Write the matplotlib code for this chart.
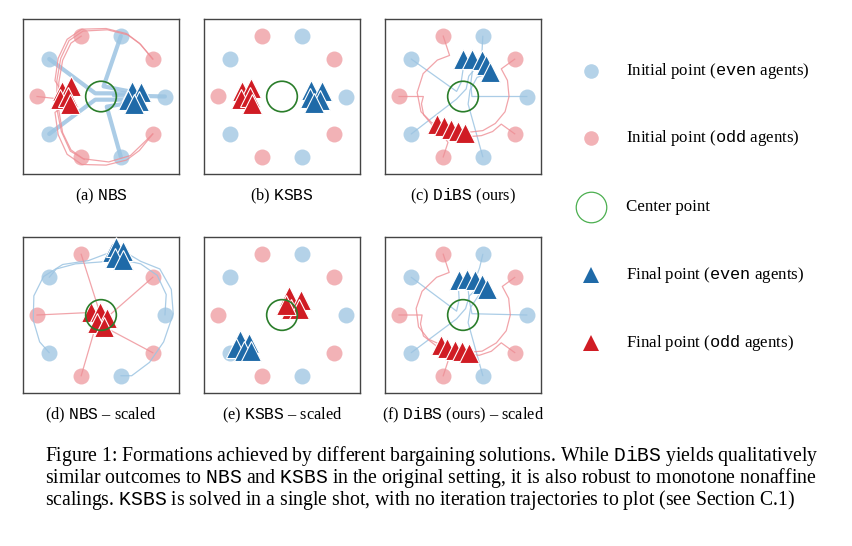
import numpy as np
import matplotlib
matplotlib.use("Agg")
import matplotlib.pyplot as plt
from matplotlib.patches import Circle

plt.rcParams['font.family'] = ['Liberation Serif', 'DejaVu Serif']
plt.rcParams['mathtext.fontset'] = 'custom'
plt.rcParams['mathtext.rm'] = 'Liberation Serif'
plt.rcParams['mathtext.tt'] = 'Liberation Mono'

# ---------------- data ----------------
# initial agent positions (polar): 10 agents on unit circle, even = blue, odd = red
init_angles_deg = [0, 36, 72, 108, 144, 180, 216, 252, 288, 324]
init_radius = 1.0
center_radius = 0.24

panel_labels = [r'(a) $\mathtt{NBS}$', r'(b) $\mathtt{KSBS}$', r'(c) $\mathtt{DiBS}$ (ours)',
                r'(d) $\mathtt{NBS}$ – scaled', r'(e) $\mathtt{KSBS}$ – scaled',
                r'(f) $\mathtt{DiBS}$ (ours) – scaled']

# final points (x, y)
final_even_a = [(0.48, 0.09), (0.62, 0.07), (0.43, -0.05), (0.60, -0.07), (0.51, -0.12)]
final_odd_a = [(-0.61, 0.09), (-0.47, 0.16), (-0.64, -0.04), (-0.51, 0.00), (-0.48, -0.12)]
final_even_b = [(0.46, 0.11), (0.62, 0.08), (0.44, -0.03), (0.60, -0.06), (0.50, -0.10)]
final_odd_b = [(-0.62, 0.08), (-0.48, 0.14), (-0.64, -0.04), (-0.50, 0.00), (-0.47, -0.12)]
final_even_c = [(0.00, 0.59), (0.14, 0.59), (0.29, 0.57), (0.36, 0.49), (0.43, 0.38)]
final_odd_c = [(-0.40, -0.43), (-0.30, -0.47), (-0.19, -0.51), (-0.08, -0.54), (0.03, -0.57)]
final_even_d = [(0.17, 0.99), (0.24, 1.07), (0.35, 1.00), (0.22, 0.89), (0.35, 0.86)]
final_odd_d = [(-0.15, 0.04), (-0.02, 0.04), (0.09, -0.04), (-0.07, -0.13), (0.04, -0.18)]
final_even_e = [(-0.66, -0.39), (-0.51, -0.44), (-0.72, -0.52), (-0.59, -0.57), (-0.48, -0.57)]
final_odd_e = [(0.11, 0.29), (0.29, 0.24), (0.14, 0.09), (0.27, 0.10), (0.07, 0.16)]
final_even_f = [(-0.07, 0.55), (0.06, 0.56), (0.19, 0.55), (0.30, 0.49), (0.38, 0.40)]
final_odd_f = [(-0.35, -0.47), (-0.25, -0.51), (-0.13, -0.54), (-0.01, -0.56), (0.10, -0.59)]

# trajectories (waypoints), cartesian
traj_even_a = [
    [(1.0, 0.0), (0.20, 0.02)],
    [(0.31, 0.95), (0.04, 0.16), (0.45, 0.08)],
    [(-0.81, 0.59), (-0.09, 0.05), (0.45, 0.05)],
    [(-0.81, -0.59), (-0.09, -0.05), (0.45, -0.05)],
    [(0.31, -0.95), (0.09, -0.16), (0.45, -0.10)],
]
traj_odd_a = [
    [(0.81, 0.59), (0.62, 0.82), (0.42, 0.97), (0.10, 1.05), (-0.28, 1.03), (-0.50, 0.88), (-0.63, 0.60),
     (-0.69, 0.25), (-0.69, -0.20), (-0.62, -0.55), (-0.48, -0.86), (-0.26, -0.99)],
    [(0.81, 0.59), (0.60, 0.84), (0.40, 0.99), (0.08, 1.07), (-0.30, 1.06), (-0.53, 0.90), (-0.67, 0.60),
     (-0.72, 0.25), (-0.62, 0.09)],
    [(-0.31, 0.95), (-0.47, 0.84), (-0.60, 0.57), (-0.66, 0.22), (-0.66, -0.22), (-0.60, -0.57),
     (-0.47, -0.84), (-0.28, -0.98), (0.12, -1.03), (0.46, -0.93), (0.81, -0.59)],
    [(-1.0, 0.0), (-0.64, -0.04)],
    [(0.81, -0.59), (0.60, -0.85), (0.40, -1.0), (0.08, -1.08), (-0.30, -1.07), (-0.53, -0.91),
     (-0.67, -0.60), (-0.72, -0.25), (-0.50, -0.10)],
]

# DiBS trajectories: odd agents in polar (deg, r), even agents cartesian
traj_odd_c_polar = [
    [(36, 1.0), (36, 0.74), (20, 0.74), (0, 0.72), (-20, 0.70), (-40, 0.66), (-60, 0.62), (-87, 0.57)],
    [(108, 1.0), (108, 0.68), (125, 0.70), (150, 0.72), (175, 0.72), (200, 0.70), (220, 0.64), (227, 0.59)],
    [(180, 1.0), (180, 0.62), (190, 0.66), (205, 0.68), (225, 0.66), (237, 0.56)],
    [(252, 1.0), (252, 0.76), (245, 0.70), (240, 0.64), (250, 0.55)],
    [(324, 1.0), (324, 0.74), (310, 0.72), (295, 0.68), (280, 0.64), (262, 0.55)],
]
traj_even_c = [
    [(1.0, 0.0), (0.14, 0.0), (0.12, 0.2), (0.15, 0.42), (0.14, 0.59)],
    [(0.31, 0.95), (0.30, 0.76), (0.29, 0.57)],
    [(-0.81, 0.59), (-0.10, 0.08), (-0.03, 0.22), (0.0, 0.42), (0.0, 0.59)],
    [(-0.81, -0.59), (-0.10, -0.04), (0.05, 0.12), (0.09, 0.32), (0.20, 0.45), (0.36, 0.49)],
    [(0.31, -0.95), (0.08, -0.12), (0.11, 0.10), (0.22, 0.30), (0.43, 0.38)],
]
traj_odd_f_polar = [
    [(36, 1.0), (36, 0.76), (20, 0.76), (0, 0.74), (-20, 0.72), (-40, 0.68), (-62, 0.64), (-80, 0.59)],
    [(108, 1.0), (108, 0.70), (125, 0.72), (150, 0.74), (172, 0.74), (195, 0.72), (215, 0.66), (233, 0.58)],
    [(180, 1.0), (180, 0.64), (192, 0.68), (208, 0.70), (228, 0.64), (244, 0.57)],
    [(252, 1.0), (252, 0.76), (244, 0.70), (238, 0.66), (256, 0.55)],
    [(324, 1.0), (324, 0.74), (308, 0.72), (292, 0.68), (278, 0.62), (268, 0.56)],
]
traj_even_f = [
    [(1.0, 0.0), (0.14, 0.02), (0.10, 0.22), (0.08, 0.40), (0.06, 0.56)],
    [(0.31, 0.95), (0.26, 0.74), (0.19, 0.55)],
    [(-0.81, 0.59), (-0.10, 0.06), (-0.06, 0.24), (-0.07, 0.40), (-0.07, 0.55)],
    [(-0.81, -0.59), (-0.10, -0.06), (0.04, 0.10), (0.10, 0.30), (0.30, 0.49)],
    [(0.31, -0.95), (0.08, -0.12), (0.12, 0.12), (0.24, 0.30), (0.38, 0.40)],
]

traj_even_d = [
    [(1.0, 0.0), (1.02, 0.32), (0.88, 0.62), (0.62, 0.80), (0.35, 0.86)],
    [(0.31, 0.95), (0.24, 1.07)],
    [(-0.81, 0.59), (-0.70, 0.72), (-0.40, 0.80), (0.0, 0.83), (0.22, 0.89)],
    [(-0.81, -0.59), (-0.96, -0.42), (-1.06, -0.08), (-1.05, 0.30), (-0.90, 0.60),
     (-0.60, 0.79), (-0.20, 0.85), (0.17, 0.99)],
    [(0.31, -0.95), (0.48, -0.95), (0.76, -0.74), (0.98, -0.42), (1.13, 0.02), (1.10, 0.40),
     (0.92, 0.72), (0.62, 0.84), (0.35, 1.00)],
]
traj_odd_d = [
    [(0.81, 0.59), (0.09, -0.04)],
    [(-0.31, 0.95), (-0.02, 0.04)],
    [(-1.0, 0.0), (-0.15, 0.04)],
    [(-0.31, -0.95), (-0.07, -0.13)],
    [(0.81, -0.59), (0.04, -0.18)],
]


def polar_to_xy(path):
    a = np.deg2rad([p[0] for p in path])
    r = np.array([p[1] for p in path])
    return list(zip(r * np.cos(a), r * np.sin(a)))


panels = [
    dict(fe=final_even_a, fo=final_odd_a, te=traj_even_a, to=traj_odd_a, thick=True),
    dict(fe=final_even_b, fo=final_odd_b, te=[], to=[], thick=False),
    dict(fe=final_even_c, fo=final_odd_c, te=traj_even_c,
         to=[polar_to_xy(p) for p in traj_odd_c_polar], thick=False),
    dict(fe=final_even_d, fo=final_odd_d, te=traj_even_d, to=traj_odd_d, thick=False),
    dict(fe=final_even_e, fo=final_odd_e, te=[], to=[], thick=False),
    dict(fe=final_even_f, fo=final_odd_f, te=traj_even_f,
         to=[polar_to_xy(p) for p in traj_odd_f_polar], thick=False),
]

# ---------------- style ----------------
BLUE = '#1f6aa8'
RED = '#d01c24'
LBLUE = '#b4d2e8'
LRED = '#f2b2b6'
TBLUE = '#9cc4e2'
TRED = '#ee8e95'
GREEN = '#2a7d2a'

W, H = 853, 546
fig = plt.figure(figsize=(W / 100, H / 100), dpi=100)

boxes = [(23, 19, 156, 155), (204, 19, 156, 155), (385, 19, 156, 155),
         (23, 237, 156, 156), (204, 237, 156, 156), (385, 237, 156, 156)]

ang = np.deg2rad(init_angles_deg)
ix = init_radius * np.cos(ang)
iy = init_radius * np.sin(ang)

LIM = 1.22
for k, (p, (x0, y0, w, h)) in enumerate(zip(panels, boxes)):
    ax = fig.add_axes([x0 / W, 1 - (y0 + h) / H, w / W, h / H])
    ax.set_xlim(-LIM, LIM)
    ax.set_ylim(-LIM, LIM)
    ax.set_xticks([])
    ax.set_yticks([])
    for s in ax.spines.values():
        s.set_color('#444444')
        s.set_linewidth(1.0)
    # initial points
    ax.plot(ix[0::2], iy[0::2], 'o', color=LBLUE, ms=11.5, mew=0, zorder=1)
    ax.plot(ix[1::2], iy[1::2], 'o', color=LRED, ms=11.5, mew=0, zorder=1)
    # trajectories
    lw_e = 3.0 if p['thick'] else 0.9
    for path in p['te']:
        xs, ys = zip(*path)
        ax.plot(xs, ys, '-', color=TBLUE, lw=lw_e, alpha=0.85, zorder=2,
                solid_capstyle='round')
    for path in p['to']:
        xs, ys = zip(*path)
        ax.plot(xs, ys, '-', color=TRED, lw=0.9, alpha=0.8, zorder=2)
    # final points
    fx, fy = zip(*p['fe'])
    ax.plot(fx, fy, '^', color=BLUE, ms=14, mec='white', mew=0.8, zorder=3)
    fx, fy = zip(*p['fo'])
    ax.plot(fx, fy, '^', color=RED, ms=14, mec='white', mew=0.8, zorder=3)
    # center
    ax.add_patch(Circle((0, 0), center_radius, fill=False, ec=GREEN, lw=1.2, zorder=4))
    fig.text((x0 + w / 2) / W, 1 - (y0 + h + 22) / H, panel_labels[k],
             ha='center', va='center', fontsize=11.8)

# ---------------- legend ----------------
legend_labels = [r'Initial point ($\mathtt{even}$ agents)', r'Initial point ($\mathtt{odd}$ agents)',
                 'Center point', r'Final point ($\mathtt{even}$ agents)', r'Final point ($\mathtt{odd}$ agents)']
lax = fig.add_axes([0, 0, 1, 1])
lax.set_xlim(0, W)
lax.set_ylim(H, 0)
lax.axis('off')
rows = [71, 138, 207, 275, 343]
lax.plot([591], [rows[0]], 'o', color=LBLUE, ms=10.5, mew=0)
lax.plot([591], [rows[1]], 'o', color=LRED, ms=10.5, mew=0)
lax.plot([591], [rows[2]], 'o', mfc='none', mec='#4caf50', ms=22, mew=0.9)
lax.plot([591], [rows[3]], '^', color=BLUE, ms=11, mew=0)
lax.plot([591], [rows[4]], '^', color=RED, ms=11, mew=0)
for r, lab in zip(rows, legend_labels):
    lax.text(626, r, lab, ha='left', va='center', fontsize=12.2)

# ---------------- caption ----------------
caption_lines = [
    r'Figure 1: Formations achieved by different bargaining solutions. While $\mathtt{DiBS}$ yields qualitatively',
    r'similar outcomes to $\mathtt{NBS}$ and $\mathtt{KSBS}$ in the original setting, it is also robust to monotone nonaffine',
    r'scalings. $\mathtt{KSBS}$ is solved in a single shot, with no iteration trajectories to plot (see Section C.1)',
]
for i, line in enumerate(caption_lines):
    lax.text(45, 456 + 22 * i, line, ha='left', va='center', fontsize=14.2)

fig.savefig('out.png', dpi=100)
